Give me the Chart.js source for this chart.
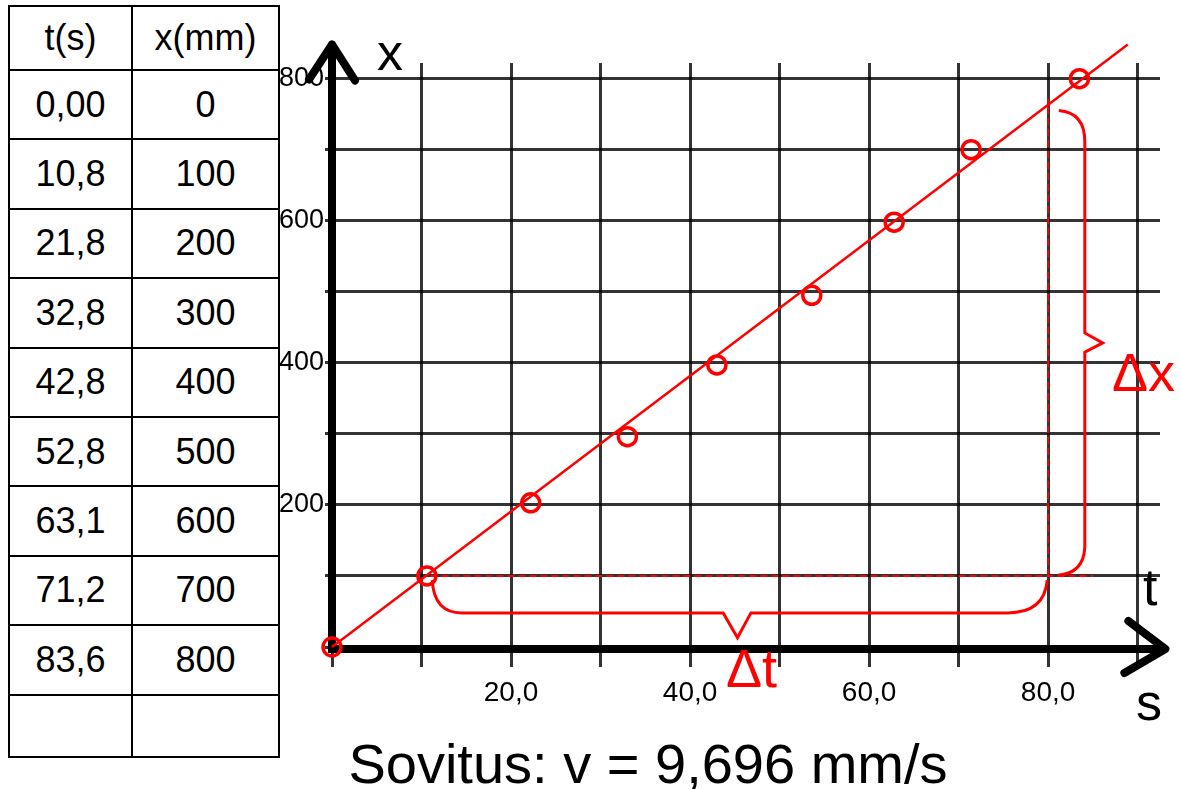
<!DOCTYPE html>
<html>
<head>
<meta charset="utf-8">
<script src="https://cdn.jsdelivr.net/npm/chart.js@4.4.1/dist/chart.umd.min.js"></script>
<style>
    html, body { margin: 0; padding: 0; background: #fff; }
    #wrap { position: relative; width: 1181px; height: 789px; overflow: hidden; }
    #chart { position: absolute; left: 0; top: 0; }
    #data {
        position: absolute; left: 8px; top: 5px; z-index: 2;
        border-collapse: collapse; background: #fff;
        font-family: "Liberation Sans", Arial, sans-serif; font-size: 36px;
    }
    #data td { border: 2px solid #000; text-align: center; padding: 0; }
    #data td.c1 { width: 121px; }
    #data td.c2 { width: 145px; }
</style>
</head>
<body>
<div id="wrap">
    <table id="data"></table>
    <canvas id="chart" width="1181" height="789"></canvas>
</div>
<script>
// Table contents
const tableHeader = ['t(s)', 'x(mm)'];
const tableT = ['0,00', '10,8', '21,8', '32,8', '42,8', '52,8', '63,1', '71,2', '83,6', ''];
const tableX = ['0', '100', '200', '300', '400', '500', '600', '700', '800', ''];

// Measured points as plotted
const pointT = [0, 10.6, 22.2, 33.0, 43.0, 53.6, 62.8, 71.4, 83.5];
const pointX = [0, 100, 203, 296, 397, 495, 598, 700, 800];

// Fitted line (end points)
const fitT = [0, 88.9];
const fitX = [0, 848];

// Dashed helper lines for delta t / delta x
const dashHT = [11, 85];
const dashHX = [100, 100];
const dashVT = [80, 80];
const dashVX = [100, 772];

const titleText = 'Sovitus: v = 9,696 mm/s';
const FONT = '"Liberation Sans", Arial, sans-serif';
const RED = '#ff0000';

// Build the table
const table = document.getElementById('data');
function addRow(a, b, h) {
    const tr = document.createElement('tr');
    tr.style.height = h + 'px';
    const td1 = document.createElement('td');
    td1.className = 'c1';
    td1.textContent = a;
    const td2 = document.createElement('td');
    td2.className = 'c2';
    td2.textContent = b;
    tr.appendChild(td1);
    tr.appendChild(td2);
    table.appendChild(tr);
}
addRow(tableHeader[0], tableHeader[1], 64);
tableT.forEach((t, i) => addRow(t, tableX[i], i === tableT.length - 1 ? 62 : 69.4));

const pts = (xs, ys) => xs.map((v, i) => ({ x: v, y: ys[i] }));

// Axes with arrows, braces and labels
const overlay = {
    id: 'overlay',
    beforeDatasetsDraw(chart) {
        const { ctx, scales: { x, y } } = chart;
        const x0 = x.getPixelForValue(0);
        const y0 = y.getPixelForValue(0) + 2;
        const yTip = y.getPixelForValue(848);
        const xTip = x.getPixelForValue(93.1);
        ctx.save();
        ctx.strokeStyle = '#000';
        ctx.lineWidth = 8;
        ctx.lineCap = 'round';
        ctx.lineJoin = 'round';
        ctx.beginPath();
        ctx.moveTo(x0, y0);
        ctx.lineTo(x0, yTip);
        ctx.moveTo(x0 - 23, yTip + 35);
        ctx.lineTo(x0, yTip);
        ctx.lineTo(x0 + 23, yTip + 36);
        ctx.stroke();
        ctx.lineCap = 'butt';
        ctx.beginPath();
        ctx.moveTo(x0 - 4, y0);
        ctx.lineTo(xTip, y0);
        ctx.stroke();
        ctx.lineCap = 'round';
        ctx.beginPath();
        ctx.moveTo(xTip - 37, y0 - 28);
        ctx.lineTo(xTip, y0);
        ctx.lineTo(xTip - 41, y0 + 24);
        ctx.stroke();
        ctx.restore();
    },
    afterDatasetsDraw(chart) {
        const { ctx, scales: { x, y } } = chart;
        const P = (t, v) => [x.getPixelForValue(t), y.getPixelForValue(v)];
        ctx.save();
        ctx.strokeStyle = RED;
        ctx.lineWidth = 3;
        ctx.lineJoin = 'miter';
        // delta t brace
        ctx.beginPath();
        ctx.moveTo(...P(11.2, 94));
        ctx.quadraticCurveTo(...P(11.4, 48), ...P(14.5, 48));
        ctx.lineTo(...P(43.7, 48));
        ctx.lineTo(...P(45.3, 13));
        ctx.lineTo(...P(46.8, 48));
        ctx.lineTo(...P(75.5, 48));
        ctx.quadraticCurveTo(...P(79.6, 48), ...P(79.9, 94));
        ctx.stroke();
        // delta x brace
        ctx.beginPath();
        ctx.moveTo(...P(81.2, 755));
        ctx.quadraticCurveTo(...P(84.1, 752), ...P(84.1, 711));
        ctx.lineTo(...P(84.1, 442));
        ctx.lineTo(...P(86.1, 428));
        ctx.lineTo(...P(84.1, 415));
        ctx.lineTo(...P(84.1, 141));
        ctx.quadraticCurveTo(...P(84.0, 104), ...P(81.1, 101));
        ctx.stroke();

        ctx.textAlign = 'left';
        ctx.textBaseline = 'alphabetic';
        ctx.fillStyle = RED;
        ctx.font = '54px ' + FONT;
        ctx.fillText('\u0394x', 1112, 391);
        ctx.fillText('\u0394t', 726, 687);
        ctx.fillStyle = '#000';
        ctx.font = '52px ' + FONT;
        ctx.fillText('x', 377, 70);
        ctx.fillText('t', 1143, 605);
        ctx.fillText('s', 1136, 720);
        ctx.textAlign = 'center';
        ctx.font = '56px ' + FONT;
        ctx.fillText(titleText, 648, 783);
        ctx.restore();
    }
};

const dashed = {
    showLine: true, borderColor: RED, borderWidth: 2, borderDash: [7, 4],
    pointRadius: 0, fill: false
};

new Chart(document.getElementById('chart'), {
    type: 'scatter',
    data: {
        datasets: [
            { data: pts(fitT, fitX), showLine: true, borderColor: RED, borderWidth: 2.5,
              pointRadius: 0, clip: false },
            Object.assign({ data: pts(dashHT, dashHX) }, dashed),
            Object.assign({ data: pts(dashVT, dashVX) }, dashed),
            { data: pts(pointT, pointX), pointRadius: 9, pointBorderWidth: 3.5,
              borderColor: RED, pointBorderColor: RED, backgroundColor: 'transparent',
              pointBackgroundColor: 'transparent', clip: false }
        ]
    },
    plugins: [overlay],
    options: {
        responsive: false,
        animation: false,
        layout: { padding: { left: 0, top: 63, right: 21, bottom: 0 } },
        plugins: { legend: { display: false }, tooltip: { enabled: false } },
        scales: {
            x: {
                type: 'linear', min: 0, max: 92.5,
                afterFit: s => { s.height = 142; },
                border: { display: false },
                grid: { color: 'rgba(0,0,0,0.8)', lineWidth: 3, tickLength: 20 },
                ticks: {
                    stepSize: 10, includeBounds: false, maxRotation: 0, autoSkip: false,
                    padding: 9, color: '#000', font: { size: 28, family: FONT },
                    callback: v => (v > 0 && v % 20 === 0) ? v.toFixed(1).replace('.', ',') : ''
                }
            },
            y: {
                type: 'linear', min: 0, max: 822,
                afterFit: s => { s.width = 332; },
                border: { display: false },
                grid: { color: 'rgba(0,0,0,0.8)', lineWidth: 3, tickLength: 7 },
                ticks: {
                    stepSize: 100, includeBounds: false, autoSkip: false,
                    padding: 1, color: '#000', font: { size: 27, family: FONT },
                    callback: v => (v > 0 && v % 200 === 0) ? String(v) : ''
                }
            }
        }
    }
});
</script>
</body>
</html>
